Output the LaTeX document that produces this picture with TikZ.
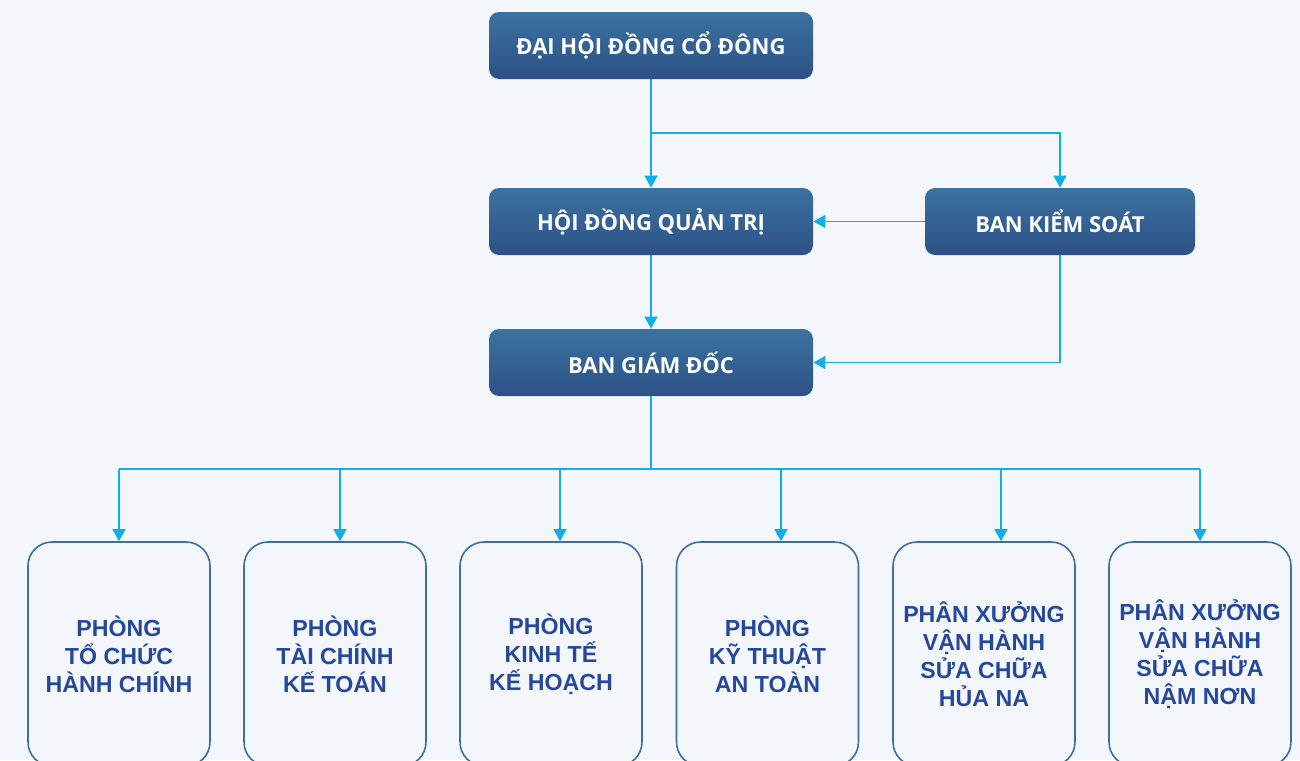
\documentclass[tikz,border=0pt]{standalone}
\usepackage{fontspec}
\setmainfont{Open Sans}
\newfontfamily\deptfont{Liberation Sans}
\usetikzlibrary{arrows.meta, positioning}
\definecolor{bg}{HTML}{F3F6FA}
\definecolor{boxtop}{HTML}{3A72A0}
\definecolor{boxbot}{HTML}{2D5186}
\definecolor{link}{HTML}{12AEEA}
\definecolor{depttext}{HTML}{26489A}
\definecolor{deptline}{HTML}{3F6E9F}
\tikzset{
	x = 0.5pt,
	y = -0.5pt,
	board/.style={
		rounded corners=5pt,
		top color=boxtop,
		bottom color=boxbot,
		text=white,
		font=\bfseries\fontsize{11}{13}\selectfont,
		minimum height=33.5pt,
		inner sep=0pt
	},
	dept/.style={
		draw=deptline,
		line width=.8pt,
		fill=bg,
		rounded corners=12pt,
		minimum width=91pt,
		minimum height=112pt,
		align=center,
		text=depttext,
		font=\deptfont\bfseries\fontsize{11.6}{14}\selectfont
	},
	link/.style={
		draw=link,
		line width=.8pt
	},
	edge/.style={
		link,
		-{Triangle[length=6pt,width=6.5pt]}
	}
}

\begin{document}
\begin{tikzpicture}
\useasboundingbox (0,0) rectangle (1300,760);
\fill[bg] (0,0) rectangle (1300,760);
\clip (0,0) rectangle (1300,760);

\node[board, minimum width=162pt] (dhd) at (651,45.5) {ĐẠI HỘI ĐỒNG CỔ ĐÔNG};
\node[board, minimum width=162pt] (hdqt) at (651,221.5) {HỘI ĐỒNG QUẢN TRỊ};
\node[board, minimum width=135pt] (bks) at (1060,221.5) {BAN KIỂM SOÁT};
\node[board, minimum width=162pt] (bgd) at (651,362.5) {BAN GIÁM ĐỐC};

\node[dept] (d1) at (119,654) {PHÒNG\\TỔ CHỨC\\HÀNH CHÍNH};
\node[dept] (d2) at (335,654) {PHÒNG\\TÀI CHÍNH\\KẾ TOÁN};
\node[dept] (d3) at (551,654) {PHÒNG\\KINH TẾ\\KẾ HOẠCH};
\node[dept] (d4) at (767.5,654) {PHÒNG\\KỸ THUẬT\\AN TOÀN};
\node[dept] (d5) at (984,654) {PHÂN XƯỞNG\\VẬN HÀNH\\SỬA CHỮA\\HỦA NA};
\node[dept] (d6) at (1200,654) {PHÂN XƯỞNG\\VẬN HÀNH\\SỬA CHỮA\\NẬM NƠN};

\coordinate (split) at (651,133);
\coordinate (bus) at (651,469);
\coordinate (tap1) at (119,469);
\coordinate (tap2) at (340,469);
\coordinate (tap3) at (560,469);
\coordinate (tap4) at (781,469);
\coordinate (tap5) at (1001,469);
\coordinate (tap6) at (1200,469);

\draw[edge] (dhd) -- (hdqt);
\draw[edge] (split) -| (bks);
\draw[edge] (bks) -- (hdqt);
\draw[edge] (hdqt) -- (bgd);
\draw[edge] (bks.south) |- (bgd.east);
\draw[link] (bgd) -- (bus);
\draw[link] (tap1) -- (tap6);
\foreach \i in {1,...,6}
	\draw[edge] (tap\i) -- (tap\i |- d\i.north);
\end{tikzpicture}
\end{document}
